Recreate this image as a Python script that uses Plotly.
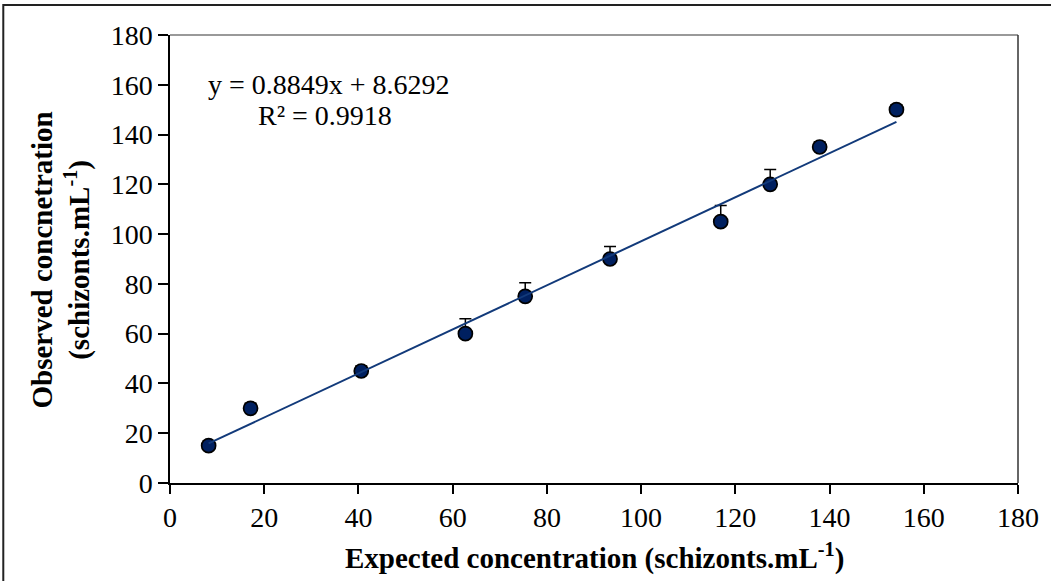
import plotly.graph_objects as go

# Expected vs observed schizont concentrations
expected = [8.2, 17.1, 40.6, 62.7, 75.4, 93.4, 116.9, 127.4, 137.9, 154.2]
observed = [15, 30, 45, 60, 75, 90, 105, 120, 135, 150]
err_plus = [2, 2, 2, 6, 5.5, 5, 6.5, 6, 2, 2]

# Linear trendline coefficients
slope = 0.8849
intercept = 8.6292
r_squared = 0.9918

x_ticks = list(range(0, 181, 20))
y_ticks = list(range(0, 181, 20))

FONT = "Liberation Serif, Times New Roman, serif"
NAVY = "#002060"
LINE_NAVY = "#123a7a"

W, H = 1051, 581
ML, MR, MT, MB = 170, 29, 35, 98
PW, PH = W - ML - MR, H - MT - MB

fig = go.Figure()

fig.add_trace(go.Scatter(
    x=expected, y=observed, mode="markers",
    marker=dict(size=14, color=NAVY, line=dict(color="black", width=1.7)),
    error_y=dict(type="data", symmetric=False, array=err_plus,
                 arrayminus=[0] * len(err_plus),
                 color="black", thickness=1.5, width=6),
    showlegend=False,
))

trend_x = [expected[0], expected[-1]]
trend_y = [slope * v + intercept for v in trend_x]
fig.add_trace(go.Scatter(
    x=trend_x, y=trend_y, mode="lines",
    line=dict(color=LINE_NAVY, width=2), showlegend=False,
))


def px_x(p):
    return (p - ML) / PW


def px_y(p):
    return (H - MB - p) / PH


shapes = [
    # outer chart frame
    dict(type="rect", xref="paper", yref="paper",
         x0=px_x(2.5), x1=px_x(W + 20), y0=px_y(H + 20), y1=px_y(5),
         line=dict(color="#222222", width=2), fillcolor="rgba(0,0,0,0)"),
    # plot-area top and right edges
    dict(type="line", xref="paper", yref="paper", x0=0, x1=1, y0=1, y1=1,
         line=dict(color="#777777", width=1.5)),
    dict(type="line", xref="paper", yref="paper", x0=1, x1=1, y0=0, y1=1,
         line=dict(color="#333333", width=1.5)),
]

annotations = [
    dict(text=f"y = {slope}x + {intercept}", x=px_x(206), y=px_y(84),
         xref="paper", yref="paper", xanchor="left", yanchor="middle",
         showarrow=False, font=dict(family=FONT, size=28, color="black")),
    dict(text=f"R² = {r_squared}", x=px_x(326), y=px_y(115),
         xref="paper", yref="paper", xanchor="center", yanchor="middle",
         showarrow=False, font=dict(family=FONT, size=28, color="black")),
    dict(text="<b>Expected concentration (schizonts.mL<sup>-1</sup>)</b>",
         x=0.5, y=px_y(556), xref="paper", yref="paper",
         xanchor="center", yanchor="middle", showarrow=False,
         font=dict(family=FONT, size=29, color="black")),
    dict(text="<b>Observed concnetration<br>(schizonts.mL<sup>-1</sup>)</b>",
         x=px_x(60), y=px_y(260), xref="paper", yref="paper",
         xanchor="center", yanchor="middle", textangle=-90, showarrow=False,
         font=dict(family=FONT, size=29, color="black")),
]

fig.update_layout(
    width=W, height=H,
    margin=dict(l=ML, r=MR, t=MT, b=MB),
    paper_bgcolor="white", plot_bgcolor="white",
    font=dict(family=FONT, size=28, color="black"),
    shapes=shapes, annotations=annotations,
    xaxis=dict(range=[0, 180], tickvals=x_ticks, ticks="outside", ticklen=9,
               tickwidth=1.5, tickcolor="black", showline=True,
               linecolor="black", linewidth=1.5, showgrid=False,
               zeroline=False, tickfont=dict(family=FONT, size=28)),
    yaxis=dict(range=[0, 180], tickvals=y_ticks, ticks="outside", ticklen=10,
               tickwidth=1.5, tickcolor="black", showline=True,
               linecolor="black", linewidth=1.5, showgrid=False,
               zeroline=False, tickfont=dict(family=FONT, size=28)),
)

fig.write_html("out.html")
